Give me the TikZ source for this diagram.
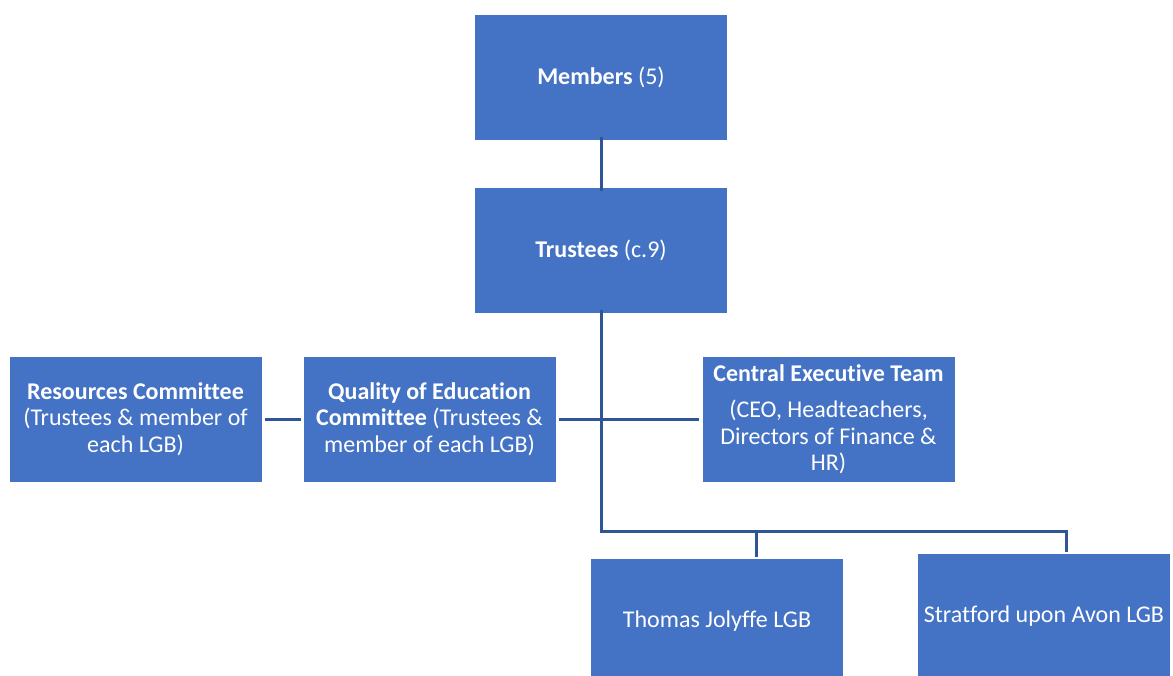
\documentclass[tikz,border=0pt]{standalone}
\usepackage{fontspec}
\setmainfont{Carlito}[Ligatures=NoCommon]
\begin{document}
\begin{tikzpicture}[x=1pt,y=-1pt,
  orgbox/.style={fill=boxblue, draw=none, minimum width=252pt, minimum height=125pt,
    inner sep=0pt, align=center, text=white,
    font=\fontsize{24}{26.5}\selectfont},
  conn/.style={draw=lineblue, line width=3pt}]
\definecolor{boxblue}{HTML}{4472C4}
\definecolor{lineblue}{HTML}{2F5597}
\useasboundingbox (0,0) rectangle (1173,675);
\clip (0,0) rectangle (1173,675);

% boxes
\node[orgbox] (members)   at (601,77.5)  {\textbf{Members} (5)};
\node[orgbox] (trustees)  at (601,250.5) {\textbf{Trustees} (c.9)};
\node[orgbox] (resources) at (135.5,419) {\textbf{Resources Committee}\\(Trustees \& member of\\each LGB)};
\node[orgbox] (quality)   at (429.5,419) {\textbf{Quality of Education}\\\textbf{Committee} (Trustees \&\\member of each LGB)};
\node[orgbox] (cet)       at (828.5,419) {\textbf{Central Executive Team}\\[10pt](CEO, Headteachers,\\Directors of Finance \&\\HR)};
\node[orgbox] (thomas)    at (717,621)   {Thomas Jolyffe LGB};
\node[orgbox] (stratford) at (1044,616)  {Stratford upon Avon LGB};

% junction points of the lower bus
\coordinate (bus)   at (601,531);
\coordinate (tjtop) at (756,557);
\coordinate (satop) at (1066,552);

% connectors
\draw[conn] ([yshift=3pt]members.south) -- ([yshift=-3pt]trustees.north);
\draw[conn] ([xshift=3pt]resources.east) -- ([xshift=-2pt]quality.west);
\draw[conn] ([xshift=3pt]quality.east) -- ([xshift=-3pt]cet.west);
\draw[conn] ([yshift=3pt]trustees.south) -- (bus) -| (satop);
\draw[conn] (bus -| tjtop) -- (tjtop);
\end{tikzpicture}
\end{document}
